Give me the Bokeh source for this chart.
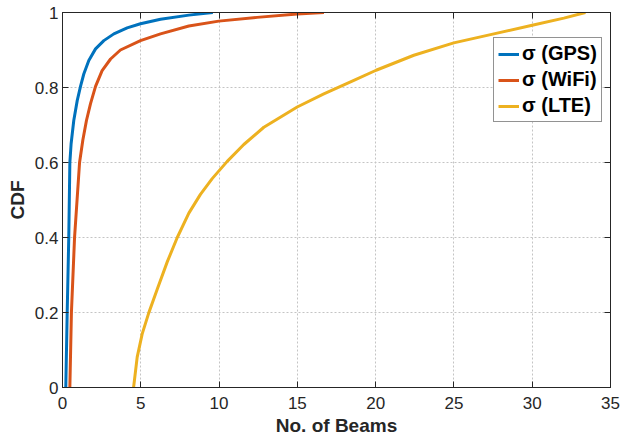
from bokeh.plotting import figure
from bokeh.models import Range1d, LinearAxis, FixedTicker, Legend, LegendItem
from bokeh.embed import file_html
from bokeh.resources import INLINE

# CDF curves: number of beams (x) and CDF (y)
gps_x = [0.21, 0.30, 0.40, 0.47, 0.55, 0.72, 0.94, 1.15, 1.36, 1.68, 2.11, 2.64, 3.28, 4.13, 4.98, 6.26, 8.07, 9.6]
gps_y = [0.0, 0.2, 0.4, 0.6, 0.65, 0.712, 0.765, 0.803, 0.836, 0.872, 0.903, 0.925, 0.943, 0.959, 0.970, 0.982, 0.993, 1.0]

wifi_x = [0.47, 0.57, 0.77, 1.09, 1.30, 1.53, 1.79, 2.11, 2.53, 3.07, 3.70, 4.98, 6.26, 8.07, 9.98, 12.43, 14.99, 16.7]
wifi_y = [0.0, 0.2, 0.4, 0.6, 0.66, 0.712, 0.757, 0.803, 0.845, 0.876, 0.900, 0.925, 0.943, 0.964, 0.977, 0.987, 0.996, 1.0]

lte_x = [4.54, 4.77, 5.09, 5.51, 6.05, 6.69, 7.33, 8.07, 8.81, 9.56, 10.52, 11.58, 12.86, 14.99, 16.69,
         18.61, 20.03, 22.44, 24.99, 27.55, 30.0, 32.02, 33.4]
lte_y = [0.0, 0.081, 0.143, 0.199, 0.262, 0.335, 0.400, 0.465, 0.515, 0.557, 0.603, 0.648, 0.694, 0.748, 0.783,
         0.819, 0.846, 0.886, 0.919, 0.943, 0.966, 0.985, 1.0]

series_names = ["σ (GPS)", "σ (WiFi)", "σ (LTE)"]
colors = ["#0072BD", "#D95319", "#EDB120"]

x_ticks = [0, 5, 10, 15, 20, 25, 30, 35]
y_ticks = [0, 0.2, 0.4, 0.6, 0.8, 1]
y_tick_labels = {0: "0", 0.2: "0.2", 0.4: "0.4", 0.6: "0.6", 0.8: "0.8", 1: "1"}

FONT = "Liberation Sans"
AX = "#262626"

p = figure(width=620, height=441, output_backend="svg", toolbar_location=None,
           x_range=Range1d(0, 35), y_range=Range1d(0, 1),
           min_border_left=62, min_border_right=10, min_border_top=12, min_border_bottom=54)
p.background_fill_color = "white"
p.border_fill_color = "white"
p.outline_line_color = AX
p.outline_line_width = 1

renderers = []
for xs, ys, c in zip([gps_x, wifi_x, lte_x], [gps_y, wifi_y, lte_y], colors):
    r = p.line(xs, ys, line_color=c, line_width=3, line_join="round")
    renderers.append(r)

p.xaxis.ticker = FixedTicker(ticks=x_ticks)
p.yaxis.ticker = FixedTicker(ticks=y_ticks)
p.yaxis.major_label_overrides = y_tick_labels

for ax in [p.xaxis[0], p.yaxis[0]]:
    ax.major_label_text_font = FONT
    ax.major_label_text_font_size = "17px"
    ax.major_label_text_color = AX
    ax.axis_label_text_font = FONT
    ax.axis_label_text_font_size = "19px"
    ax.axis_label_text_font_style = "bold"
    ax.axis_label_text_color = AX
    ax.axis_line_color = AX
    ax.major_tick_line_color = AX
    ax.major_tick_in = 6
    ax.major_tick_out = 0
    ax.minor_tick_line_color = None

p.xaxis.axis_label = "No. of Beams"
p.yaxis.axis_label = "CDF"
p.xaxis.major_label_standoff = 9
p.xaxis.axis_label_standoff = 3
p.yaxis.major_label_standoff = 4
p.yaxis.axis_label_standoff = 4

for loc, tk in [("right", y_ticks), ("above", x_ticks)]:
    a = LinearAxis(ticker=FixedTicker(ticks=tk), major_label_overrides={t: "" for t in tk},
                   major_label_text_font_size="1px",
                   major_label_standoff=0, axis_line_color=AX, major_tick_line_color=AX,
                   major_tick_in=6, major_tick_out=0, minor_tick_line_color=None)
    p.add_layout(a, loc)

p.xgrid.ticker = FixedTicker(ticks=x_ticks)
p.ygrid.ticker = FixedTicker(ticks=y_ticks)
p.grid.grid_line_color = "#c4c4c4"
p.grid.grid_line_dash = "2 2"
p.grid.grid_line_width = 1

legend = Legend(items=[LegendItem(label=n, renderers=[r]) for n, r in zip(series_names, renderers)],
                location=(431, 265))
legend.label_text_font = FONT
legend.label_text_font_size = "20px"
legend.label_text_font_style = "bold"
legend.label_text_color = "black"
legend.border_line_color = "#262626"
legend.border_line_width = 1
legend.background_fill_color = "white"
legend.background_fill_alpha = 1
legend.glyph_width = 21
legend.glyph_height = 20
legend.label_height = 20
legend.label_standoff = 3
legend.spacing = 3
legend.padding = 4
legend.margin = 0
p.add_layout(legend)

open("out.html", "w").write(file_html(p, INLINE))
